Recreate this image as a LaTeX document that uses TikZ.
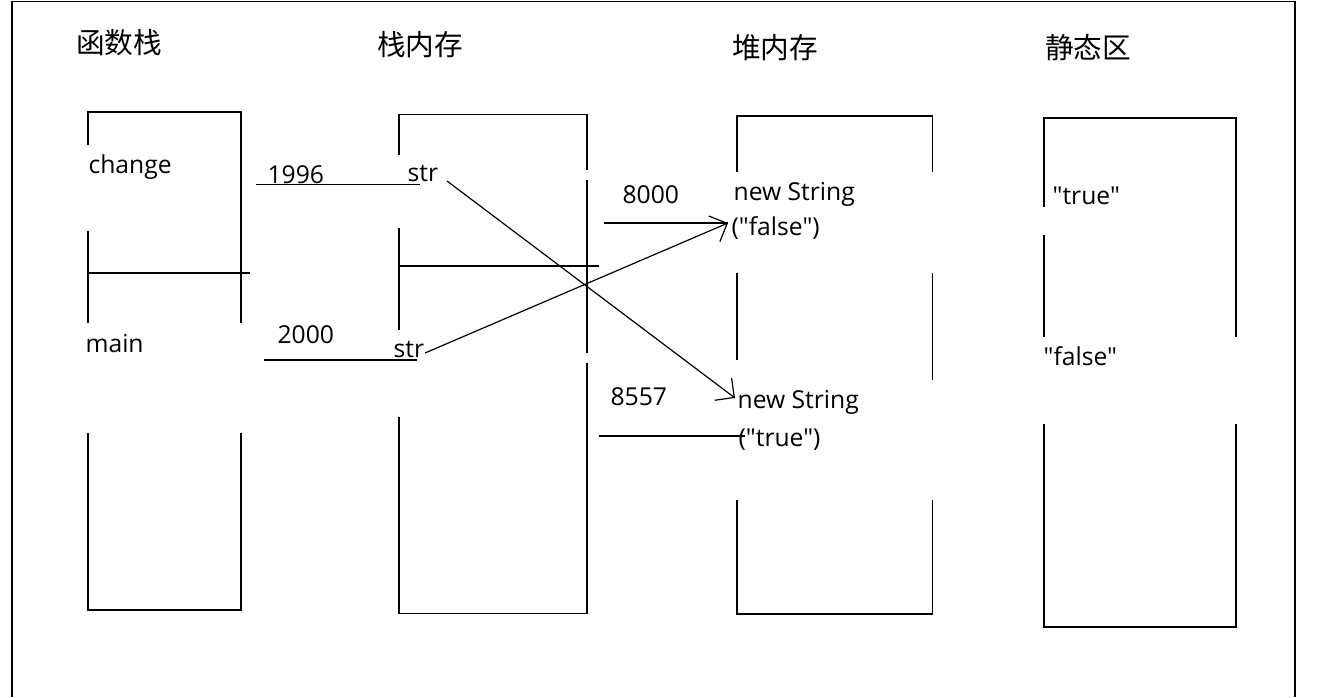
\documentclass[tikz,border=0pt]{standalone}
\usepackage{fontspec}
\setmainfont{Open Sans}[Ligatures=TeXOff]
\newfontfamily\cjk{Noto Sans CJK SC}
\usetikzlibrary{arrows.meta}
\begin{document}
\begin{tikzpicture}[x=0.75pt,y=-0.75pt,line width=0.9pt,
  lbl/.style={font=\fontsize{18.5}{20}\selectfont,inner sep=0pt,anchor=base west},
  ttl/.style={font=\cjk\fontsize{21.5}{24}\selectfont,inner sep=0pt},
  maskbox/.style={fill=white,draw=none},
  arr/.style={-{Straight Barb[length=10.5pt,width=21pt]}}]
\useasboundingbox (0,0) rectangle (1317,697);
\fill[white] (0,0) rectangle (1317,697);
% outer frame
\draw (12,697) -- (12,1.5) -- (1295,1.5) -- (1295,697);
% columns
\draw (88,112) rectangle (241,610);
\draw (88,273) -- (250,273);
\draw (399,114.5) rectangle (587,613.5);
\draw (399,266) -- (599,266);
\draw (737,116) rectangle (932.5,614);
\draw (1044,118) rectangle (1236,627);
% white text backgrounds
\fill[maskbox] (80,145) rectangle (200,231);
\fill[maskbox] (80,323) rectangle (250,433);
\fill[maskbox] (390,155) rectangle (430,228);
\fill[maskbox] (390,330) rectangle (430,417);
\fill[maskbox] (582,170) rectangle (592,180);
\fill[maskbox] (582,353) rectangle (592,363);
\fill[maskbox] (720,172) rectangle (945,273);
\fill[maskbox] (720,360) rectangle (925,500);
\fill[maskbox] (925,380) rectangle (945,500);
\fill[maskbox] (1035,207) rectangle (1130,235);
\fill[maskbox] (1035,337) rectangle (1245,424);
% titles
\node[ttl] (t1) at (119,43) {函数栈};
\node[ttl] (t2) at (420,45) {栈内存};
\node[ttl] (t3) at (775,48) {堆内存};
\node[ttl] (t4) at (1088,48) {静态区};
% labels
\node[lbl] (change) at (88,173) {change};
\node[lbl] (main) at (85,352) {main};
\node[lbl] (n1996) at (267,183) {1996};
\node[lbl] (n2000) at (277,343) {2000};
\node[lbl] (str1) at (407,181) {str};
\node[lbl] (str2) at (393,357) {str};
\node[lbl] (n8000) at (622,203) {8000};
\node[lbl] (hf1) at (733,200) {new String};
\node[lbl] (hf2) at (731,235) {("false")};
\node[lbl] (n8557) at (610,405) {8557};
\node[lbl] (ht1) at (737,408) {new String};
\node[lbl] (ht2) at (738,446) {("true")};
\node[lbl] (strue) at (1052,204) {"true"};
\node[lbl] (sfalse) at (1043,365) {"false"};
% connector end points
\coordinate (a1) at (256,184.5);
\coordinate (a2) at (420,184.5);
\coordinate (b1) at (264,360);
\coordinate (b2) at (417,360);
\coordinate (c1) at (604,223);
\coordinate (c2) at (728,223);
\coordinate (d1) at (599,436);
\coordinate (d2) at (745,436);
\coordinate (e1) at (447,181);
\coordinate (e2) at (735,398);
\coordinate (f1) at (425,353);
% connectors
\draw (a1) -- (a2);
\draw (b1) -- (b2);
\draw (c1) -- (c2);
\draw (d1) -- (d2);
\draw[arr] (e1) -- (e2);
\draw[arr] (f1) -- (c2);
\end{tikzpicture}
\end{document}
